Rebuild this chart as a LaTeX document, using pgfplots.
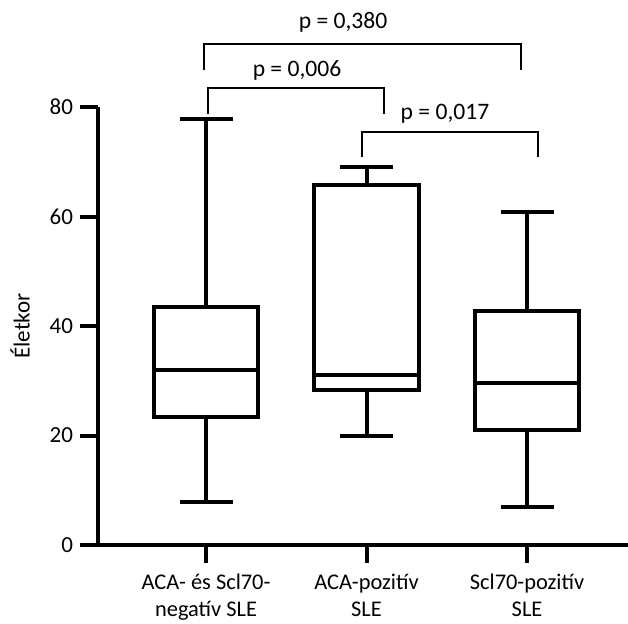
\documentclass[border=0pt]{standalone}
\usepackage{pgfplots}
\pgfplotsset{compat=1.18}
\usepackage{fontspec}
\setmainfont{Carlito}

\begin{document}
\begin{tikzpicture}
\begin{axis}[
    scale only axis,
    width=265pt, height=219pt,
    xmin=-0.673, xmax=2.629,
    ymin=0, ymax=80,
    clip=false,
    axis lines=left,
    axis line style={-, line width=2pt},
    tick align=outside,
    major tick length=9pt,
    tick style={line width=2pt, black},
    xtick={0,1,2},
    xticklabels={{ACA- és Scl70-\\negatív SLE},{ACA-pozitív\\SLE},{Scl70-pozitív\\SLE}},
    xticklabel style={align=center, yshift=-2pt, font=\fontsize{11.2}{13.5}\selectfont},
    ytick={0,20,40,60,80},
    yticklabel style={font=\fontsize{11.5}{13}\selectfont},
    /pgf/number format/assume math mode=true,
    ylabel={Életkor},
    every axis y label/.style={at={(axis description cs:-0.147,0.5)}, rotate=90, anchor=center, font=\fontsize{11.5}{13}\selectfont},
    unbounded coords=jump,
    boxl/.style={black, line width=2pt, mark=none, line join=miter},
]
% box 1: ACA- es Scl70-negativ SLE  (whiskers 7.9 / 77.9, quartiles 23.4 / 43.5, median 31.9)
\addplot[boxl] coordinates {(-0.325,23.4) (0.325,23.4) (0.325,43.5) (-0.325,43.5)} -- cycle;
\addplot[boxl] coordinates {(-0.325,31.9) (0.325,31.9) (nan,nan)
  (0,43.5) (0,77.9) (nan,nan) (-0.165,77.9) (0.165,77.9) (nan,nan)
  (0,23.4) (0,7.9) (nan,nan) (-0.165,7.9) (0.165,7.9)};
% box 2: ACA-pozitiv SLE  (whiskers 20 / 69, quartiles 28.4 / 65.8, median 31)
\addplot[boxl] coordinates {(0.675,28.4) (1.325,28.4) (1.325,65.8) (0.675,65.8)} -- cycle;
\addplot[boxl] coordinates {(0.675,31.0) (1.325,31.0) (nan,nan)
  (1,65.8) (1,69.0) (nan,nan) (0.835,69.0) (1.165,69.0) (nan,nan)
  (1,28.4) (1,20.0) (nan,nan) (0.835,20.0) (1.165,20.0)};
% box 3: Scl70-pozitiv SLE  (whiskers 6.9 / 60.8, quartiles 21 / 42.7, median 29.6)
\addplot[boxl] coordinates {(1.675,21.0) (2.325,21.0) (2.325,42.7) (1.675,42.7)} -- cycle;
\addplot[boxl] coordinates {(1.675,29.6) (2.325,29.6) (nan,nan)
  (2,42.7) (2,60.8) (nan,nan) (1.835,60.8) (2.165,60.8) (nan,nan)
  (2,21.0) (2,6.9) (nan,nan) (1.835,6.9) (2.165,6.9)};

% significance brackets
\draw[line width=1pt] (axis cs:-0.012,86.7) -- (axis cs:-0.012,91.6) -- (axis cs:1.963,91.6) -- (axis cs:1.963,86.7);
\draw[line width=1pt] (axis cs:0.012,78.8) -- (axis cs:0.012,83.4) -- (axis cs:1.109,83.4) -- (axis cs:1.109,78.8);
\draw[line width=1pt] (axis cs:0.972,70.8) -- (axis cs:0.972,75.4) -- (axis cs:2.069,75.4) -- (axis cs:2.069,70.8);
\node[font=\fontsize{11.8}{13}\selectfont] at (axis cs:0.854,95.5) {p = 0,380};
\node[font=\fontsize{11.8}{13}\selectfont] at (axis cs:0.567,86.6) {p = 0,006};
\node[font=\fontsize{11.8}{13}\selectfont] at (axis cs:1.489,78.7) {p = 0,017};
\end{axis}
\pgfresetboundingbox
\path (-49pt,-39pt) rectangle (265pt,272.5pt);
\end{tikzpicture}
\end{document}
